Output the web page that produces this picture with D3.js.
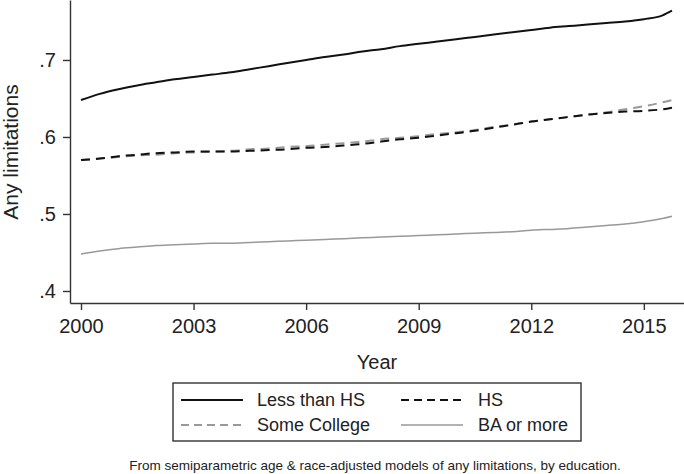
<!DOCTYPE html>
<html>
<head>
<meta charset="utf-8">
<script src="https://cdn.jsdelivr.net/npm/d3@7"></script>
<style>
  body { margin: 0; background: #fff; }
  svg { display: block; font-family: "Liberation Sans", Arial, sans-serif; }
  .axis path, .axis line { stroke: #333; stroke-width: 1.4; }
  .axis text { fill: #222; }
</style>
</head>
<body>
<svg id="chart" width="684" height="474"></svg>
<script>
"use strict";

// years sampled along the smoothed curves
var years = [2000, 2000.5, 2001, 2001.5, 2002, 2002.5, 2003, 2003.5, 2004, 2004.5,
  2005, 2005.5, 2006, 2006.5, 2007, 2007.5, 2008, 2008.5, 2009, 2009.5,
  2010, 2010.5, 2011, 2011.5, 2012, 2012.5, 2013, 2013.5, 2014, 2014.5,
  2015, 2015.5, 2015.75];

var lessThanHS = [.648, .656, .662, .667, .671, .675, .678, .681, .684, .688,
  .692, .696, .700, .704, .707, .711, .714, .718, .721, .724,
  .727, .730, .733, .736, .739, .742, .744, .746, .748, .750,
  .753, .758, .764];

var hs = [.570, .572, .575, .577, .579, .580, .581, .581, .581, .582,
  .583, .584, .586, .587, .589, .591, .594, .597, .599, .602,
  .605, .608, .612, .616, .620, .623, .626, .629, .631, .633,
  .634, .636, .638];

var someCollege = [.570, .572, .574, .576, .577, .579, .580, .581, .582, .584,
  .585, .587, .588, .590, .592, .594, .597, .599, .601, .604,
  .606, .609, .613, .616, .620, .623, .626, .629, .632, .636,
  .640, .645, .648];

var baOrMore = [.448, .452, .455, .457, .459, .460, .461, .462, .462, .463,
  .464, .465, .466, .467, .468, .469, .470, .471, .472, .473,
  .474, .475, .476, .477, .479, .480, .481, .483, .485, .487,
  .490, .494, .497];

var xTicks = [2000, 2003, 2006, 2009, 2012, 2015];
var yTicks = [.4, .5, .6, .7];

var seriesNames = ["Less than HS", "HS", "Some College", "BA or more"];
var seriesValues = [lessThanHS, hs, someCollege, baOrMore];
var seriesStyle = [
  { color: "#111", width: 2, dash: null },
  { color: "#111", width: 2, dash: "9,6" },
  { color: "#999", width: 2, dash: "9,6" },
  { color: "#999", width: 1.5, dash: null }
];

var svg = d3.select("#chart");

var x = d3.scaleLinear().domain([1999.707, 2016.07]).range([70, 684]);
var y = d3.scaleLinear().domain([0.3844, 0.7779]).range([303, 0]);

// axes
var xAxis = svg.append("g")
  .attr("class", "axis")
  .attr("transform", "translate(0,303)")
  .call(d3.axisBottom(x).tickValues(xTicks).tickFormat(d3.format("d"))
    .tickSize(7).tickSizeOuter(0).tickPadding(9));
xAxis.selectAll("text").attr("font-size", 20);

var yAxis = svg.append("g")
  .attr("class", "axis")
  .attr("transform", "translate(70,0)")
  .call(d3.axisLeft(y).tickValues(yTicks)
    .tickFormat(function(d) { return d3.format(".1f")(d).replace(/^0/, ""); })
    .tickSize(7).tickSizeOuter(0).tickPadding(7));
yAxis.selectAll("text").attr("font-size", 20);

svg.append("text")
  .attr("x", 377)
  .attr("y", 369)
  .attr("text-anchor", "middle")
  .attr("font-size", 20)
  .attr("fill", "#222")
  .text("Year");

svg.append("text")
  .attr("transform", "translate(18,152) rotate(-90)")
  .attr("text-anchor", "middle")
  .attr("font-size", 21)
  .attr("fill", "#222")
  .text("Any limitations");

// lines
var line = d3.line()
  .x(function(d) { return x(d[0]); })
  .y(function(d) { return y(d[1]); })
  .curve(d3.curveMonotoneX);

// draw gray first so black dashes sit on top where they overlap
[3, 2, 1, 0].forEach(function(i) {
  var pts = years.map(function(yr, j) { return [yr, seriesValues[i][j]]; });
  svg.append("path")
    .attr("d", line(pts))
    .attr("fill", "none")
    .attr("stroke", seriesStyle[i].color)
    .attr("stroke-width", seriesStyle[i].width)
    .attr("stroke-dasharray", seriesStyle[i].dash);
});

// legend
var legend = svg.append("g").attr("class", "legend");
legend.append("rect")
  .attr("x", 173).attr("y", 383)
  .attr("width", 408).attr("height", 58)
  .attr("fill", "none")
  .attr("stroke", "#333")
  .attr("stroke-width", 1.4);

var legendPos = [
  { lx: 181, tx: 257, ty: 400 },
  { lx: 401, tx: 478, ty: 400 },
  { lx: 181, tx: 257, ty: 425 },
  { lx: 401, tx: 478, ty: 425 }
];

seriesNames.forEach(function(name, i) {
  var p = legendPos[i];
  legend.append("line")
    .attr("x1", p.lx).attr("x2", p.lx + 62)
    .attr("y1", p.ty).attr("y2", p.ty)
    .attr("stroke", seriesStyle[i].color)
    .attr("stroke-width", seriesStyle[i].width)
    .attr("stroke-dasharray", seriesStyle[i].dash ? "8,5" : null);
  legend.append("text")
    .attr("x", p.tx).attr("y", p.ty)
    .attr("dy", "0.35em")
    .attr("font-size", 18)
    .attr("fill", "#222")
    .text(name);
});

svg.append("text")
  .attr("x", 375)
  .attr("y", 465)
  .attr("dy", "0.35em")
  .attr("text-anchor", "middle")
  .attr("font-size", 13.5)
  .attr("fill", "#222")
  .text("From semiparametric age & race-adjusted models of any limitations, by education.");
</script>
</body>
</html>
